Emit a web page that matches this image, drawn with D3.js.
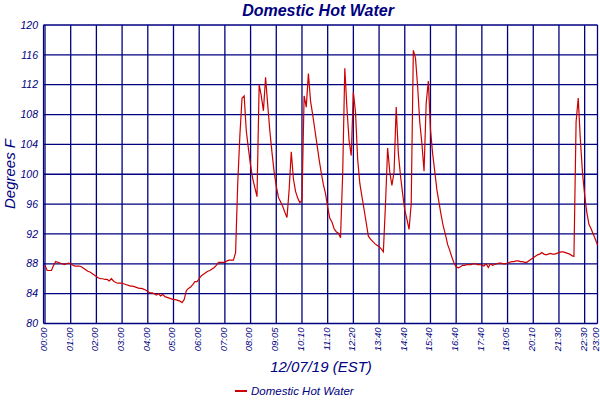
<!DOCTYPE html>
<html><head><meta charset="utf-8">
<script src="https://cdn.jsdelivr.net/npm/d3@7"></script>
<style>
html,body{margin:0;padding:0;background:#fff;}
text{font-family:"Liberation Sans",Arial,sans-serif;font-style:italic;fill:#000080;}
</style></head>
<body><svg id="c" width="600" height="400"></svg>
<script>
const title = "Domestic Hot Water";
const xTitle = "12/07/19 (EST)";
const yTitle = "Degrees F";
const seriesName = "Domestic Hot Water";
const tickLabels = ["00:00","01:00","02:00","03:00","04:00","05:00","06:00","07:00","08:00","09:05","10:10","11:10","12:20","13:40","14:40","15:40","16:40","17:40","19:05","20:10","21:30","22:30","23:00"];
const tickIndex = [0,12,24,36,48,60,72,84,96,108,120,132,144,156,168,180,192,204,216,228,240,252,258];
const yTicks = [80,84,88,92,96,100,104,108,112,116,120];
const temps = [
87.8,87.1,87.1,87.1,87.8,88.3,88.2,88.1,88.0,87.9,88.0,88.1,88.0,87.8,87.7,87.7,87.7,87.6,87.4,87.2,
87.0,86.9,86.7,86.5,86.3,86.1,86.0,86.0,85.9,85.9,85.7,86.0,85.7,85.5,85.4,85.4,85.4,85.3,85.2,85.1,
85.0,85.0,84.9,84.8,84.7,84.7,84.6,84.5,84.3,84.1,84.1,84.0,83.8,84.0,83.7,83.9,83.6,83.5,83.4,83.3,
83.2,83.2,83.1,83.0,82.8,83.2,84.4,84.7,84.9,85.2,85.6,85.6,86.0,86.4,86.6,86.8,87.0,87.1,87.3,87.5,
87.8,88.2,88.2,88.2,88.2,88.4,88.5,88.5,88.5,89.5,98.8,105.2,110.2,110.5,105.8,103.4,101.2,99.4,98.2,97.0,
112.0,110.5,108.5,113.0,109.3,105.8,102.9,100.3,98.4,96.9,96.3,95.7,94.9,94.2,97.9,103.0,99.4,97.7,96.8,96.2,
96.5,110.5,109.0,113.5,109.8,108.0,106.0,104.0,102.0,100.2,98.6,97.4,95.6,94.1,93.6,92.7,92.3,92.1,91.5,100.0,
114.2,108.8,104.5,102.5,111.0,108.3,102.0,98.8,97.0,95.3,93.5,91.7,91.3,91.0,90.7,90.5,90.3,90.0,89.6,96.0,
103.5,100.3,98.5,100.3,109.0,102.8,99.8,97.4,95.2,94.0,92.6,96.0,116.6,115.6,111.8,107.0,104.1,100.4,109.5,112.5,
106.0,102.8,100.4,97.9,96.2,94.5,93.0,91.9,90.6,89.8,88.9,88.1,87.6,87.45,87.6,87.8,87.8,87.9,87.9,87.9,
88.0,88.0,87.9,87.9,87.8,87.7,88.0,87.5,88.0,87.8,87.9,88.0,88.1,88.1,88.0,88.0,88.1,88.2,88.3,88.3,
88.4,88.4,88.3,88.3,88.2,88.2,88.4,88.6,88.8,89.0,89.2,89.3,89.5,89.3,89.2,89.3,89.4,89.3,89.3,89.4,
89.5,89.6,89.6,89.5,89.4,89.3,89.1,89.0,107.0,110.2,104.6,100.2,97.2,94.9,93.3,92.7,92.0,91.3,90.5
];

const svg = d3.select("#c");
const L = 45, R = 597.5, T = 25, B = 323.5;
const x = d3.scaleLinear().domain([0, 258]).range([L, R]);
const y = d3.scaleLinear().domain([80, 120]).range([B, T]);
const navy = "#000080";

// grid
const g = svg.append("g");
g.selectAll("line.h").data(yTicks).join("line")
  .attr("x1", L - 1.5).attr("x2", R).attr("y1", d => y(d)).attr("y2", d => y(d))
  .attr("stroke", navy).attr("stroke-width", 1.3);
g.selectAll("line.v").data(tickIndex).join("line")
  .attr("x1", d => x(d)).attr("x2", d => x(d)).attr("y1", T).attr("y2", B)
  .attr("stroke", navy).attr("stroke-width", 1.3);
// left double axis line
g.append("line").attr("x1", L - 1.5).attr("x2", L - 1.5).attr("y1", T).attr("y2", B)
  .attr("stroke", navy).attr("stroke-width", 1.2);

// y tick labels
svg.append("g").selectAll("text").data(yTicks).join("text")
  .attr("x", 38).attr("y", d => y(d)).attr("dy", "0.35em")
  .attr("text-anchor", "end").attr("font-size", 10.5).text(d => d);

// x tick labels
svg.append("g").selectAll("text").data(tickIndex).join("text")
  .attr("transform", d => `translate(${x(d)},${B + 4}) rotate(-90)`)
  .attr("dy", "0.2em").attr("text-anchor", "end").attr("font-size", 9.5)
  .text((d, i) => tickLabels[i]);

// line
const line = d3.line().x((d, i) => x(i)).y(d => y(d));
svg.append("path").datum(temps).attr("d", line)
  .attr("fill", "none").attr("stroke", "#cc0000").attr("stroke-width", 1.2);

// titles
svg.append("text").attr("x", 318).attr("y", 16).attr("text-anchor", "middle")
  .attr("font-size", 16).attr("font-weight", "bold").text(title);
svg.append("text").attr("x", 321).attr("y", 372).attr("text-anchor", "middle")
  .attr("font-size", 15).text(xTitle);
svg.append("text").attr("transform", "translate(15,174) rotate(-90)").attr("text-anchor", "middle")
  .attr("font-size", 15).text(yTitle);

// legend
svg.append("line").attr("x1", 235).attr("x2", 247).attr("y1", 391).attr("y2", 391)
  .attr("stroke", "#cc0000").attr("stroke-width", 2);
svg.append("text").attr("x", 251).attr("y", 395).attr("font-size", 11.5).text(seriesName);
</script></body></html>
